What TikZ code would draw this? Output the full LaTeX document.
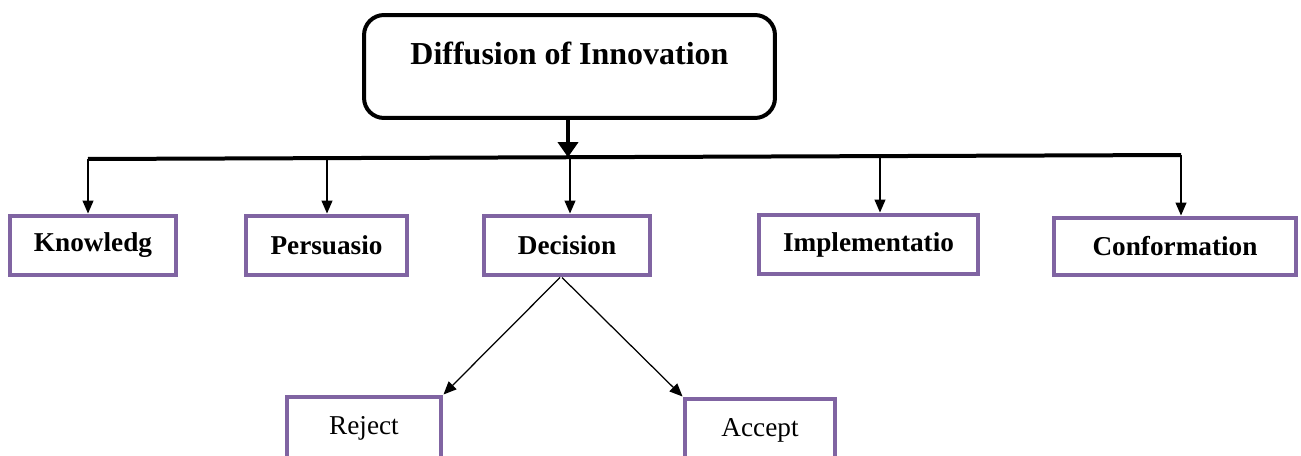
\documentclass[tikz,border=0pt]{standalone}
\usepackage{fontspec}
\setmainfont{Liberation Serif}
\usetikzlibrary{arrows.meta}
\definecolor{boxpurple}{RGB}{128,100,162}
\tikzset{
	topbox/.style={draw,rounded corners=0.4cm,line width=0.08cm,inner sep=0,minimum width=8.22cm,text height=1.0cm,text depth=1.06cm,font=\fontsize{18.2}{20}\selectfont\bfseries},
	stage/.style={draw=boxpurple,line width=0.08cm,fill=white,inner sep=0,minimum height=1.2cm,font=\fontsize{15.5}{18}\selectfont\bfseries},
	choice/.style={stage,font=\fontsize{15.5}{18}\selectfont},
	link/.style={line width=0.025cm,-{Triangle[length=0.26cm,width=0.22cm]}}
}
\begin{document}
\begin{tikzpicture}[x=0.02cm,y=-0.02cm]
	\useasboundingbox (0,0) rectangle (1301,456);
	\clip (0,0) rectangle (1301,456);
	\node[topbox] (1) at (569.5,66.5) {Diffusion of Innovation};
	\node[stage,minimum width=3.34cm] (2) at (93,245.5) {Knowledg};
	\node[stage,minimum width=3.24cm] (3) at (326.5,245.5) {Persuasio};
	\node[stage,minimum width=3.34cm] (4) at (567,245.5) {Decision};
	\node[stage,minimum width=4.4cm] (5) at (868.5,244.5) {Implementatio};
	\node[stage,minimum width=4.86cm,minimum height=1.16cm] (6) at (1175,246.5) {Conformation};
	\node[choice,minimum width=3.1cm,minimum height=1.28cm] (7) at (364,428.5) {Reject};
	\node[choice,minimum width=3.02cm,minimum height=1.28cm] (8) at (760,430.5) {Accept};
	% points on the bar
	\coordinate (b1) at (88,159);
	\coordinate (b2) at (1181,155);
	\coordinate (t) at (568,157.2);
	\coordinate (k) at (88,159);
	\coordinate (p) at (327,158.1);
	\coordinate (d) at (570,157.2);
	\coordinate (i) at (880,156.1);
	\coordinate (c) at (1181,155);
	\draw[line width=0.08cm] (b1) -- (b2);
	\draw[line width=0.07cm,-{Triangle[length=0.3cm,width=0.4cm]}] (1.south -| t) -- (t);
	\draw[link] (k) -- (k |- 2.north);
	\draw[link] (p) -- (p |- 3.north);
	\draw[link] (d) -- (d |- 4.north);
	\draw[link] (i) -- (i |- 5.north);
	\draw[link] (c) -- (c |- 6.north);
	\draw[link] ([xshift=-0.14cm]4.south) -- (7.north east);
	\draw[link] ([xshift=-0.1cm]4.south) -- (8.north west);
\end{tikzpicture}
\end{document}
